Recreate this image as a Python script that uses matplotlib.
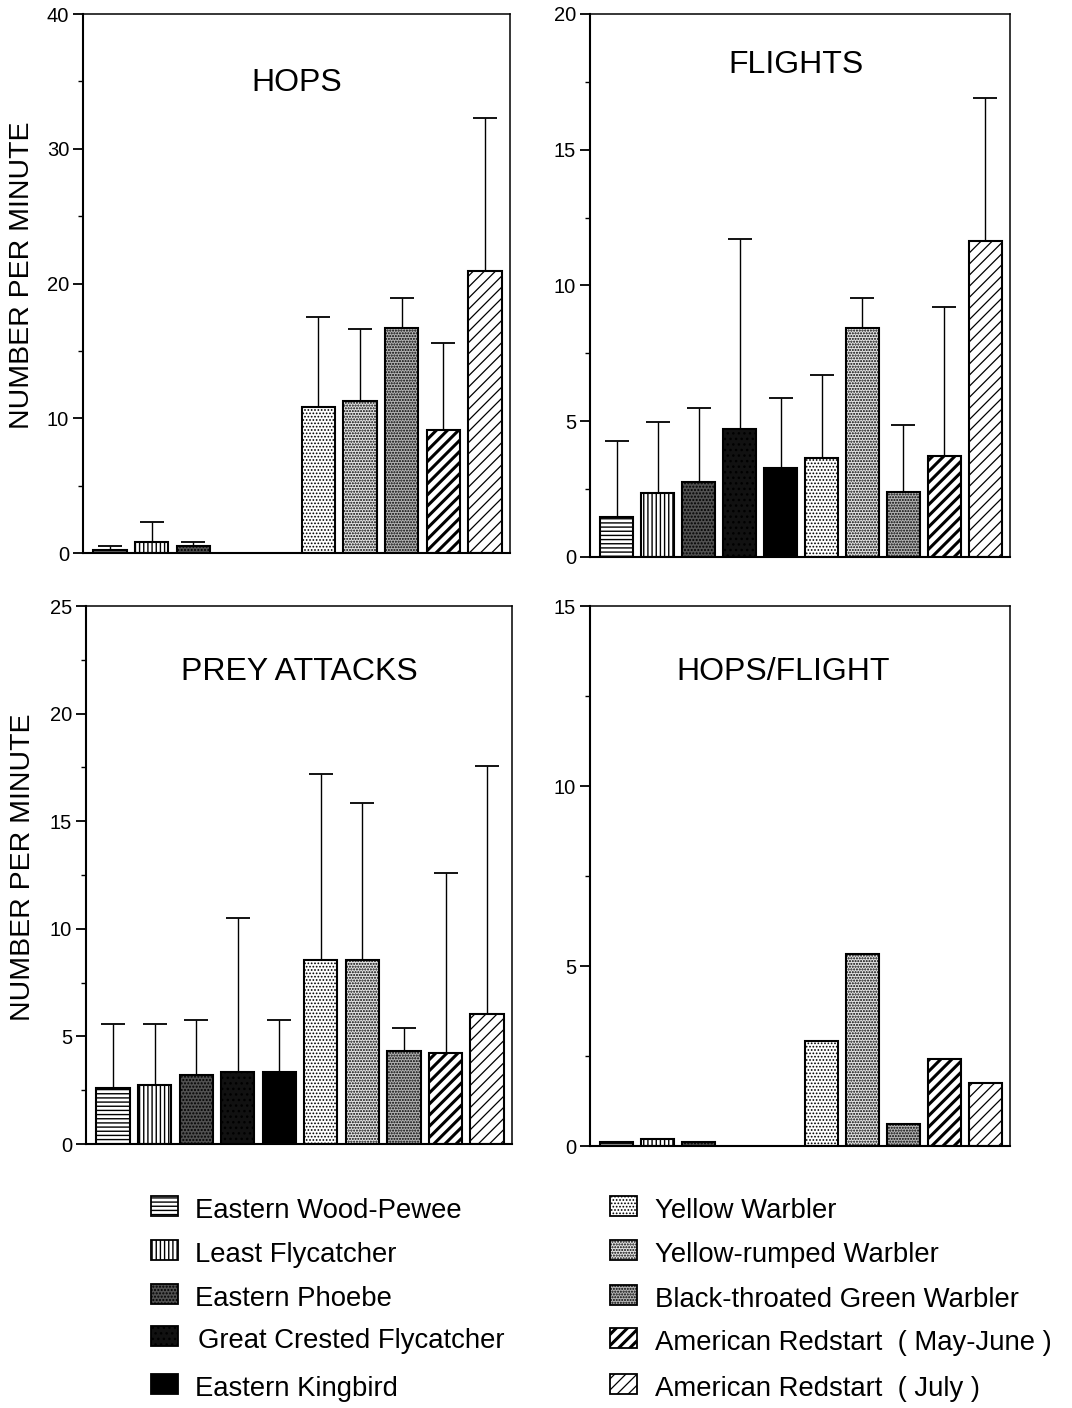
import numpy as np
import matplotlib
matplotlib.use("Agg")
import matplotlib.pyplot as plt
from matplotlib.patches import Rectangle
from matplotlib.ticker import MultipleLocator

plt.rcParams['font.family'] = ['Liberation Sans', 'DejaVu Sans']

species = ["Eastern Wood-Pewee", "Least Flycatcher", "Eastern Phoebe",
           "Great Crested Flycatcher", "Eastern Kingbird", "Yellow Warbler",
           "Yellow-rumped Warbler", "Black-throated Green Warbler",
           "American Redstart  ( May-June )", "American Redstart  ( July )"]

nan = np.nan
hops_mean = [0.2, 0.8, 0.5, nan, nan, 10.8, 11.3, 16.7, 9.1, 20.9]
hops_upper = [0.5, 2.3, 0.85, nan, nan, 17.5, 16.6, 18.9, 15.6, 32.3]
flights_mean = [1.47, 2.34, 2.78, 4.70, 3.28, 3.63, 8.42, 2.41, 3.73, 11.65]
flights_upper = [4.29, 4.98, 5.50, 11.7, 5.86, 6.71, 9.55, 4.86, 9.20, 16.9]
prey_mean = [2.62, 2.75, 3.22, 3.34, 3.34, 8.53, 8.53, 4.31, 4.23, 6.03]
prey_upper = [5.58, 5.58, 5.78, 10.5, 5.78, 17.18, 15.83, 5.38, 12.6, 17.55]
hpf_mean = [0.11, 0.2, 0.11, nan, nan, 2.92, 5.33, 0.61, 2.43, 1.76]

# (facecolor, hatch, hatch linewidth)
styles = [
    ("white", "----", 1.0),
    ("white", "||||", 1.0),
    ("#505050", ".....", 1.0),
    ("#111111", "...", 1.0),
    ("black", "", 1.0),
    ("white", ".....", 0.8),
    ("#e4e4e4", "......", 1.0),
    ("#b4b4b4", "......", 1.0),
    ("white", "///", 2.2),
    ("white", "///", 0.9),
]

W, H = 1072, 1408
fig = plt.figure(figsize=(W / 100, H / 100), dpi=100)


def fx(px):
    return px / W


def fy(py):
    return 1 - py / H


def make_ax(x0, x1, y0, y1):
    return fig.add_axes([fx(x0), fy(y1), fx(x1) - fx(x0), (y1 - y0) / H])


def style_bar(p, st):
    fc, hatch, hlw = st
    p.set_facecolor(fc)
    p.set_hatch(hatch)
    p.set_edgecolor("black")
    p.set_linewidth(1.5)
    if hasattr(p, "set_hatch_linewidth"):
        p.set_hatch_linewidth(hlw)


def panel(ax, means, uppers, ymax, major, title, tpos, ylabel=None, lx=None):
    x = np.arange(len(means))
    means = np.array(means, dtype=float)
    if uppers is not None:
        uppers = np.array(uppers, dtype=float)
        err = np.vstack([np.zeros_like(means), uppers - means])
        ax.errorbar(x, means, yerr=err, fmt="none", ecolor="black",
                    elinewidth=1.0, capsize=8.5, capthick=1.3, zorder=1)
    for i in range(len(means)):
        if np.isnan(means[i]):
            continue
        with plt.rc_context({"hatch.linewidth": styles[i][2]}):
            bars = ax.bar(x[i], means[i], width=0.8, zorder=2)
        style_bar(bars[0], styles[i])
    ax.set_xlim(-0.65, 9.6)
    ax.set_ylim(0, ymax)
    ax.yaxis.set_major_locator(MultipleLocator(major))
    ax.yaxis.set_minor_locator(MultipleLocator(major / 2))
    ax.set_xticks([])
    ax.tick_params(axis="y", which="major", direction="out", length=7,
                   width=1.3, labelsize=14.5, pad=3)
    ax.tick_params(axis="y", which="minor", direction="out", length=3.5,
                   width=1.0)
    for s in ["left", "bottom"]:
        ax.spines[s].set_linewidth(1.5)
    for s in ["top", "right"]:
        ax.spines[s].set_linewidth(1.1)
    ax.text(tpos[0], tpos[1], title, transform=ax.transAxes, ha="center",
            va="center", fontsize=23)
    if ylabel:
        ax.set_ylabel(ylabel, fontsize=20.5)
        ax.yaxis.set_label_coords(lx, 0.515)


ax1 = make_ax(83, 510, 14, 553)
panel(ax1, hops_mean, hops_upper, 40, 10, "HOPS", (0.50, 0.872),
      "NUMBER PER MINUTE", -0.112)
ax2 = make_ax(590, 1010, 14, 557)
panel(ax2, flights_mean, flights_upper, 20, 5, "FLIGHTS", (0.49, 0.906))
ax3 = make_ax(86, 512, 606, 1144)
panel(ax3, prey_mean, prey_upper, 25, 5, "PREY ATTACKS", (0.50, 0.878),
      "NUMBER PER MINUTE", -0.118)
ax4 = make_ax(590, 1010, 606, 1146)
panel(ax4, hpf_mean, None, 15, 5, "HOPS/FLIGHT", (0.46, 0.878))

# legend
left_rows = [1211, 1255, 1299, 1341, 1389]
right_rows = [1211, 1255, 1300, 1343, 1389]
pw, ph = 27, 20
for col, (px0, tx, rows) in enumerate([(151, 195, left_rows), (610, 655, right_rows)]):
    for r, ty in enumerate(rows):
        i = col * 5 + r
        fc, hatch, hlw = styles[i]
        cy = ty - 5
        with plt.rc_context({"hatch.linewidth": hlw}):
            rect = Rectangle((fx(px0), fy(cy + ph / 2)), pw / W, ph / H,
                             transform=fig.transFigure, facecolor=fc,
                             edgecolor="black", hatch=hatch, linewidth=1.3)
        if hasattr(rect, "set_hatch_linewidth"):
            rect.set_hatch_linewidth(hlw)
        fig.add_artist(rect)
        txx = tx + (3 if i == 3 else 0)
        fig.text(fx(txx), fy(ty), species[i], fontsize=19.8, ha="left",
                 va="center")

fig.savefig("out.png", dpi=100)
